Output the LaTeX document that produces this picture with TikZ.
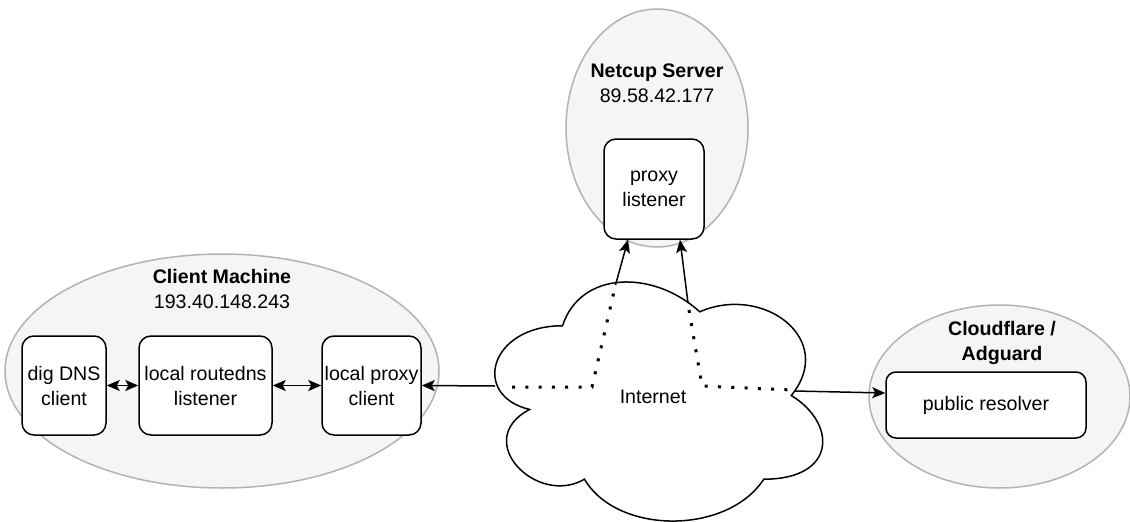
\documentclass[tikz,border=0pt]{standalone}
\usepackage{fontspec}
\setmainfont{Liberation Sans}
\usetikzlibrary{shapes.geometric,arrows.meta,calc}
\definecolor{ellfill}{HTML}{F5F5F5}
\definecolor{elldraw}{HTML}{B3B3B3}
\tikzset{
  ell/.style={ellipse, draw=elldraw, fill=ellfill, line width=1.5pt, inner sep=0pt},
  box/.style={draw=black, fill=white, rounded corners=12pt, line width=1.5pt, inner sep=0pt,
    align=center, font=\fontsize{19.6}{25}\selectfont},
  lbl/.style={inner sep=0pt, anchor=base, font=\fontsize{19.6}{25}\selectfont},
  blbl/.style={lbl, font=\fontsize{19.6}{25}\selectfont\bfseries},
  tip/.tip={Stealth[length=13pt 0, width=11pt 0, inset=3pt 0]},
  arr/.style={draw=black, line width=1.5pt, -tip},
  darr/.style={draw=black, line width=1.5pt, tip-tip},
  dotline/.style={draw=black, line width=3pt, dash pattern=on 3pt off 10.3pt},
  cloudline/.style={draw=black, fill=white, line width=1.5pt}
}
\begin{document}
\begin{tikzpicture}[x=1pt, y=-1pt]
\useasboundingbox (0,0) rectangle (1130,522);

% containers
\node[ell, minimum width=434pt, minimum height=234pt] (client) at (222,371) {};
\node[ell, minimum width=182pt, minimum height=238pt] (netcup) at (657,128) {};
\node[ell, minimum width=261pt, minimum height=183pt] (cfl) at (999.5,396.5) {};

\node[blbl] (clientT) at (222,283.5) {Client Machine};
\node[lbl] (clientIP) at (222,308.5) {193.40.148.243};
\node[blbl] (netcupT) at (657,77) {Netcup Server};
\node[lbl] (netcupIP) at (657,102) {89.58.42.177};
\node[blbl] (cflT1) at (1002,335) {Cloudflare /};
\node[blbl] (cflT2) at (1002,360) {Adguard};

% boxes
\node[box, minimum width=84pt, minimum height=99pt] (dig) at (64,385.5) {dig DNS\\client};
\node[box, minimum width=133pt, minimum height=99pt] (routedns) at (205.5,385.5) {local routedns\\listener};
\node[box, minimum width=99pt, minimum height=99pt] (proxyc) at (371.5,385.5) {local proxy\\client};
\node[box, minimum width=100pt, minimum height=100pt] (proxyl) at (654,189) {proxy\\listener};
\node[box, rounded corners=10pt, minimum width=200pt, minimum height=66pt] (resolver) at (986,405) {public resolver};

% cloud
\draw[cloudline] (562.5,325.75)
  .. controls (489.3,325.75) and (471,395.5) .. (529.56,409.45)
  .. controls (471,440.14) and (536.88,507.1) .. (584.46,479.2)
  .. controls (617.4,535) and (727.2,535) .. (763.8,479.2)
  .. controls (837,479.2) and (837,423.4) .. (791.25,395.5)
  .. controls (837,339.7) and (763.8,283.9) .. (699.75,311.8)
  .. controls (654,269.95) and (580.8,269.95) .. (562.5,325.75) -- cycle;
\node[lbl] (internet) at (653,403) {Internet};

\coordinate (cL) at (495,386);
\coordinate (cT1) at (615.5,285);
\coordinate (cT2) at (688,303);
\coordinate (cR) at (795,391);

% dotted paths inside the cloud
\draw[dotline] (512,387) -- (592,387) -- (cT1);
\draw[dotline] (689,310) -- (702,386) -- (792,390);

% connectors
\draw[darr] (dig) -- (routedns);
\draw[darr] (routedns) -- (proxyc);
\draw[arr] (cL) -- (proxyc.east);
\draw[arr] (cT1) -- ($(proxyl.south)+(-26,0)$);
\draw[arr] (cT2) -- ($(proxyl.south)+(26,0)$);
\draw[arr] (cR) -- ($(resolver.west)+(0,-12)$);
\end{tikzpicture}
\end{document}
